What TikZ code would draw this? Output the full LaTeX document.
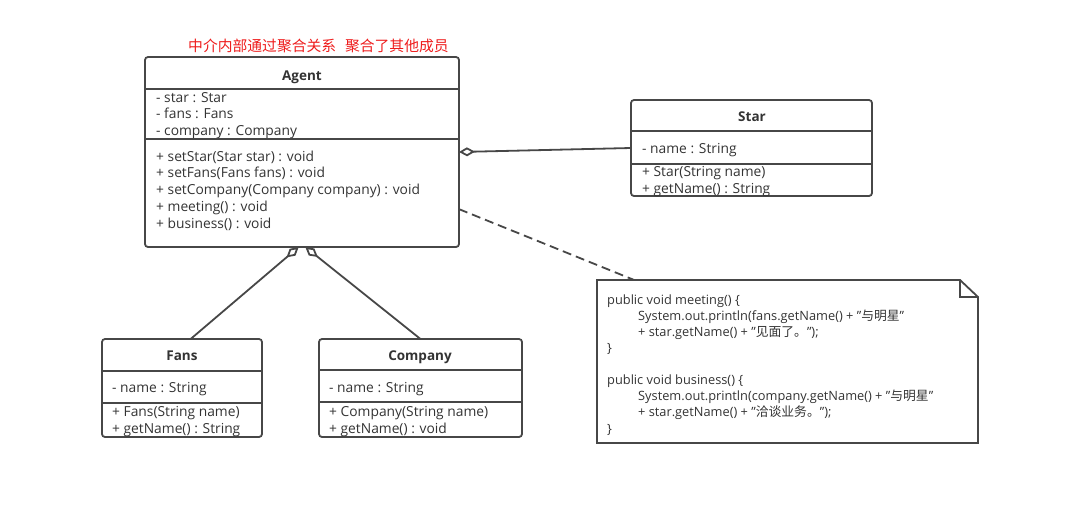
\documentclass[tikz,border=0pt]{standalone}
\usepackage{fontspec}
\setmainfont{Open Sans}
\newfontfamily\cjk{Noto Sans CJK SC}
\usepackage{xcolor}
\usetikzlibrary{arrows.meta}

\definecolor{umlline}{HTML}{474747}
\definecolor{umltext}{HTML}{333333}
\definecolor{remarkred}{HTML}{EE1C1C}

\begin{document}
\begin{tikzpicture}[x=1pt,y=-1pt,
  classbox/.style={draw=umlline,line width=1.8pt,rounded corners=3pt,anchor=north west,inner sep=0pt,outer sep=0pt},
  classname/.style={anchor=base,inner sep=0pt,text=umltext,font=\fontsize{13.5}{16}\selectfont\bfseries},
  member/.style={anchor=base west,align=left,inner sep=0pt,text=umltext,font=\fontsize{13.8}{16.75}\selectfont},
  divider/.style={draw=umlline,line width=1.4pt},
  aggr/.style={draw=umlline,line width=1.8pt,{Diamond[open,length=16pt,width=9pt]}-},
  codeline/.style={anchor=base west,align=left,inner sep=0pt,text=umltext,font=\fontsize{12.8}{16.1}\selectfont}]

\useasboundingbox (0,0) rectangle (1069,520);

% remark
\node[anchor=base west,inner sep=0pt,text=remarkred,font=\cjk\fontsize{14.8}{16}\selectfont] (remark) at (188,51)
  {中介内部通过聚合关系\hspace{0.6em}聚合了其他成员};

% Agent  (base of a multi-line node = its last line)
\node[classbox,minimum width=314pt,minimum height=190pt] (agent) at (145,57) {};
\node[classname] (agentname) at (302,80) {Agent};
\node[member] (agentattr) at (156,135.5) {- star : Star\\- fans : Fans\\- company : Company};
\node[member] (agentops) at (156,228) {+ setStar(Star star) : void\\+ setFans(Fans fans) : void\\+ setCompany(Company company) : void\\+ meeting() : void\\+ business() : void};
\draw[divider] ([yshift=-32pt]agent.north west) -- ([yshift=-32pt]agent.north east);
\draw[divider] ([yshift=-82pt]agent.north west) -- ([yshift=-82pt]agent.north east);

% Star
\node[classbox,minimum width=241pt,minimum height=96pt] (star) at (631,100) {};
\node[classname] (starname) at (752,121) {Star};
\node[member] (starattr) at (642,153) {- name : String};
\node[member] (starops) at (642,193) {+ Star(String name)\\+ getName() : String};
\draw[divider] ([yshift=-31pt]star.north west) -- ([yshift=-31pt]star.north east);
\draw[divider] ([yshift=-64pt]star.north west) -- ([yshift=-64pt]star.north east);

% Fans
\node[classbox,minimum width=160pt,minimum height=98pt] (fans) at (102,339) {};
\node[classname] (fansname) at (182,360) {Fans};
\node[member] (fansattr) at (112,392) {- name : String};
\node[member] (fansops) at (112,433) {+ Fans(String name)\\+ getName() : String};
\draw[divider] ([yshift=-32pt]fans.north west) -- ([yshift=-32pt]fans.north east);
\draw[divider] ([yshift=-64pt]fans.north west) -- ([yshift=-64pt]fans.north east);

% Company
\node[classbox,minimum width=203pt,minimum height=98pt] (company) at (319,339) {};
\node[classname] (companyname) at (420,360) {Company};
\node[member] (companyattr) at (329,392) {- name : String};
\node[member] (companyops) at (329,433) {+ Company(String name)\\+ getName() : void};
\draw[divider] ([yshift=-31pt]company.north west) -- ([yshift=-31pt]company.north east);
\draw[divider] ([yshift=-63pt]company.north west) -- ([yshift=-63pt]company.north east);

% note
\node[anchor=north west,inner sep=0pt,outer sep=0pt,minimum width=381pt,minimum height=163pt] (note) at (597,280) {};
\draw[draw=umlline,line width=1.8pt] (note.north west) -- ([xshift=-18pt]note.north east) -- ([yshift=-17pt]note.north east)
  -- (note.south east) -- (note.south west) -- cycle;
\draw[draw=umlline,line width=1.4pt] ([xshift=-18pt]note.north east) -- ++(0,17) -- ([yshift=-17pt]note.north east);
\node[codeline] (notecode) at (607,433) {public void meeting() \{\\
  \hspace{31pt}System.out.println(fans.getName() + "{\cjk 与明星}"\\
  \hspace{31pt}+ star.getName() + "{\cjk 见面了。}");\\
  \}\\[16.1pt]
  public void business() \{\\
  \hspace{31pt}System.out.println(company.getName() + "{\cjk 与明星}"\\
  \hspace{31pt}+ star.getName() + "{\cjk 洽谈业务。}");\\
  \}};

% relations
\draw[aggr] (agent.east) -- (star.west);
\draw[aggr] (agent.-92) -- (fans.80);
\draw[aggr] (agent.-88) -- (company.north);
\draw[draw=umlline,line width=1.8pt,dash pattern=on 9pt off 5pt] (agent.-20) -- (note.152.6);

\end{tikzpicture}
\end{document}
